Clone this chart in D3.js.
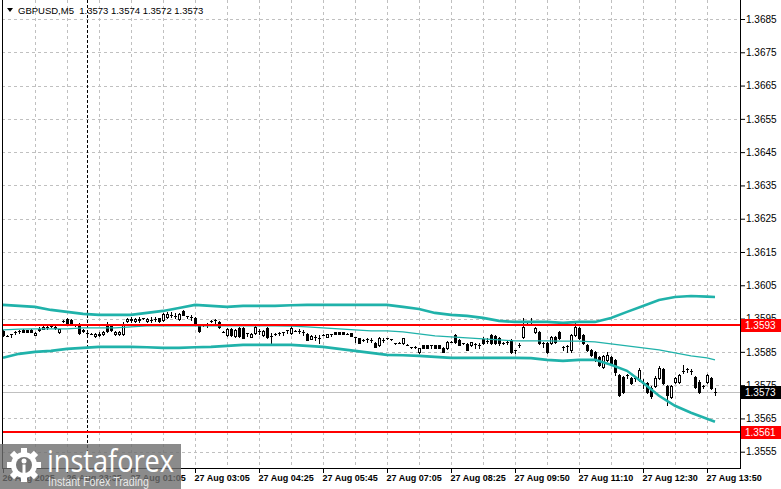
<!DOCTYPE html>
<html>
<head>
<meta charset="utf-8">
<script src="https://cdn.jsdelivr.net/npm/d3@7"></script>
<style>
html, body { margin: 0; padding: 0; background: #fff; }
svg { display: block; }
</style>
</head>
<body>
<svg id="chart" width="781" height="489"></svg>
<script>
// GBPUSD M5, 179 bars
const symbolTitle = "GBPUSD,M5";
const lastQuote = ["1.3573", "1.3574", "1.3572", "1.3573"];

const opens = [
  1.35913,1.35898,1.35904,1.35910,1.35913,1.35916,1.35916,1.35916,1.35901,1.35916,
  1.35919,1.35925,1.35928,1.35925,1.35910,1.35943,1.35949,1.35946,1.35931,1.35934,
  1.35913,1.35907,1.35904,1.35898,1.35901,1.35904,1.35934,1.35931,1.35904,1.35904,
  1.35904,1.35943,1.35946,1.35943,1.35946,1.35952,1.35943,1.35946,1.35949,1.35952,
  1.35946,1.35955,1.35961,1.35958,1.35949,1.35973,1.35958,1.35955,1.35952,1.35931,
  1.35931,1.35934,1.35943,1.35946,1.35940,1.35910,1.35901,1.35919,1.35898,1.35922,
  1.35922,1.35907,1.35895,1.35907,1.35913,1.35901,1.35922,1.35898,1.35904,1.35907,
  1.35910,1.35916,1.35907,1.35913,1.35913,1.35910,1.35904,1.35889,1.35895,1.35892,
  1.35901,1.35895,1.35904,1.35910,1.35910,1.35910,1.35904,1.35907,1.35895,1.35892,
  1.35886,1.35889,1.35886,1.35877,1.35871,1.35886,1.35892,1.35889,1.35877,1.35877,
  1.35877,1.35871,1.35865,1.35865,1.35850,1.35871,1.35871,1.35871,1.35871,1.35871,
  1.35862,1.35862,1.35880,1.35901,1.35886,1.35877,1.35874,1.35871,1.35874,1.35871,
  1.35889,1.35883,1.35901,1.35898,1.35892,1.35877,1.35880,1.35886,1.35856,1.35871,
  1.35895,1.35934,1.35940,1.35910,1.35910,1.35877,1.35877,1.35877,1.35895,1.35910,
  1.35865,1.35868,1.35856,1.35901,1.35922,1.35901,1.35871,1.35856,1.35850,1.35835,
  1.35805,1.35826,1.35835,1.35826,1.35781,1.35775,1.35781,1.35772,1.35772,1.35766,
  1.35757,1.35757,1.35742,1.35748,1.35772,1.35799,1.35748,1.35715,1.35760,1.35760,
  1.35793,1.35799,1.35793,1.35775,1.35760,1.35748,1.35760,1.35772,1.35730
];
const highs = [
  1.35916,1.35901,1.35904,1.35913,1.35916,1.35919,1.35916,1.35919,1.35910,1.35925,
  1.35928,1.35931,1.35928,1.35931,1.35919,1.35946,1.35952,1.35949,1.35934,1.35937,
  1.35919,1.35907,1.35907,1.35907,1.35910,1.35913,1.35940,1.35934,1.35913,1.35913,
  1.35940,1.35952,1.35955,1.35952,1.35955,1.35952,1.35952,1.35955,1.35955,1.35952,
  1.35967,1.35970,1.35970,1.35967,1.35967,1.35976,1.35958,1.35961,1.35955,1.35934,
  1.35934,1.35937,1.35946,1.35949,1.35943,1.35913,1.35922,1.35922,1.35919,1.35925,
  1.35925,1.35907,1.35907,1.35931,1.35919,1.35916,1.35925,1.35907,1.35907,1.35910,
  1.35910,1.35916,1.35934,1.35916,1.35919,1.35916,1.35907,1.35901,1.35901,1.35901,
  1.35904,1.35904,1.35904,1.35910,1.35910,1.35910,1.35907,1.35907,1.35895,1.35892,
  1.35889,1.35892,1.35892,1.35880,1.35895,1.35892,1.35892,1.35889,1.35877,1.35880,
  1.35892,1.35874,1.35865,1.35868,1.35862,1.35871,1.35871,1.35871,1.35871,1.35871,
  1.35865,1.35883,1.35883,1.35904,1.35889,1.35877,1.35877,1.35880,1.35877,1.35877,
  1.35895,1.35892,1.35904,1.35901,1.35895,1.35880,1.35886,1.35889,1.35856,1.35877,
  1.35952,1.35937,1.35952,1.35925,1.35913,1.35880,1.35880,1.35898,1.35898,1.35913,
  1.35868,1.35871,1.35904,1.35937,1.35925,1.35904,1.35874,1.35859,1.35853,1.35838,
  1.35841,1.35850,1.35838,1.35829,1.35784,1.35778,1.35784,1.35775,1.35778,1.35802,
  1.35769,1.35760,1.35748,1.35778,1.35808,1.35802,1.35751,1.35751,1.35775,1.35784,
  1.35811,1.35802,1.35799,1.35778,1.35766,1.35751,1.35784,1.35775,1.35740
];
const lows = [
  1.35898,1.35898,1.35895,1.35904,1.35907,1.35910,1.35910,1.35910,1.35901,1.35913,
  1.35919,1.35919,1.35925,1.35919,1.35907,1.35940,1.35937,1.35931,1.35928,1.35904,
  1.35910,1.35898,1.35904,1.35895,1.35898,1.35901,1.35910,1.35913,1.35901,1.35901,
  1.35901,1.35940,1.35940,1.35940,1.35940,1.35949,1.35940,1.35940,1.35943,1.35940,
  1.35943,1.35952,1.35955,1.35952,1.35946,1.35961,1.35952,1.35946,1.35934,1.35910,
  1.35928,1.35925,1.35940,1.35937,1.35922,1.35910,1.35898,1.35898,1.35895,1.35895,
  1.35892,1.35898,1.35895,1.35904,1.35904,1.35898,1.35892,1.35877,1.35901,1.35901,
  1.35901,1.35907,1.35904,1.35913,1.35907,1.35901,1.35886,1.35889,1.35886,1.35877,
  1.35901,1.35895,1.35898,1.35904,1.35904,1.35904,1.35904,1.35898,1.35880,1.35877,
  1.35883,1.35880,1.35880,1.35865,1.35868,1.35880,1.35889,1.35886,1.35874,1.35877,
  1.35874,1.35871,1.35862,1.35862,1.35847,1.35862,1.35862,1.35862,1.35862,1.35862,
  1.35850,1.35859,1.35880,1.35877,1.35871,1.35874,1.35856,1.35868,1.35862,1.35862,
  1.35874,1.35877,1.35874,1.35874,1.35871,1.35874,1.35874,1.35847,1.35847,1.35865,
  1.35892,1.35931,1.35934,1.35907,1.35874,1.35865,1.35847,1.35874,1.35877,1.35889,
  1.35856,1.35850,1.35850,1.35898,1.35889,1.35874,1.35853,1.35838,1.35823,1.35808,
  1.35802,1.35823,1.35814,1.35781,1.35718,1.35727,1.35772,1.35754,1.35763,1.35763,
  1.35742,1.35727,1.35712,1.35745,1.35769,1.35754,1.35691,1.35712,1.35757,1.35757,
  1.35787,1.35790,1.35784,1.35742,1.35727,1.35742,1.35757,1.35739,1.35720
];
const closes = [
  1.35901,1.35898,1.35904,1.35910,1.35913,1.35910,1.35910,1.35910,1.35907,1.35919,
  1.35925,1.35925,1.35928,1.35922,1.35919,1.35943,1.35937,1.35934,1.35931,1.35907,
  1.35916,1.35907,1.35904,1.35904,1.35904,1.35910,1.35913,1.35916,1.35910,1.35910,
  1.35934,1.35949,1.35949,1.35949,1.35949,1.35952,1.35949,1.35946,1.35949,1.35943,
  1.35964,1.35964,1.35961,1.35958,1.35964,1.35961,1.35958,1.35955,1.35937,1.35913,
  1.35931,1.35934,1.35943,1.35946,1.35925,1.35910,1.35919,1.35901,1.35916,1.35898,
  1.35892,1.35907,1.35904,1.35925,1.35913,1.35913,1.35895,1.35898,1.35904,1.35907,
  1.35910,1.35916,1.35922,1.35913,1.35913,1.35910,1.35886,1.35898,1.35895,1.35892,
  1.35901,1.35904,1.35904,1.35904,1.35904,1.35904,1.35904,1.35898,1.35895,1.35877,
  1.35886,1.35889,1.35886,1.35865,1.35892,1.35886,1.35892,1.35889,1.35877,1.35877,
  1.35892,1.35871,1.35865,1.35865,1.35862,1.35862,1.35862,1.35871,1.35862,1.35862,
  1.35850,1.35880,1.35880,1.35880,1.35871,1.35877,1.35856,1.35880,1.35874,1.35871,
  1.35877,1.35883,1.35877,1.35877,1.35877,1.35877,1.35880,1.35850,1.35856,1.35871,
  1.35925,1.35934,1.35940,1.35922,1.35877,1.35877,1.35850,1.35895,1.35880,1.35892,
  1.35865,1.35868,1.35901,1.35925,1.35892,1.35877,1.35856,1.35841,1.35826,1.35811,
  1.35838,1.35841,1.35817,1.35790,1.35721,1.35730,1.35781,1.35757,1.35772,1.35796,
  1.35757,1.35730,1.35718,1.35772,1.35802,1.35757,1.35721,1.35748,1.35772,1.35781,
  1.35793,1.35799,1.35793,1.35745,1.35730,1.35748,1.35781,1.35742,1.35730
];

// Bollinger-style envelope, read every 4th bar plus the last one
const bandBars = d3.range(0, 177, 4).concat([178]);
const upperBand = [
  1.35991,1.35988,1.35985,1.35976,1.35970,1.35964,1.35961,1.35961,1.35961,1.35967,
  1.35973,1.35982,1.35991,1.35988,1.35985,1.35988,1.35988,1.35988,1.35990,1.35991,
  1.35991,1.35991,1.35991,1.35991,1.35991,1.35985,1.35979,1.35967,1.35961,1.35958,
  1.35952,1.35943,1.35940,1.35940,1.35940,1.35937,1.35940,1.35940,1.35952,1.35970,
  1.35988,1.36006,1.36015,1.36018,1.36016,1.36015
];
const middleBand = [
  1.35916,1.35918,1.35919,1.35919,1.35919,1.35922,1.35922,1.35922,1.35925,1.35928,
  1.35928,1.35928,1.35928,1.35928,1.35928,1.35928,1.35928,1.35928,1.35927,1.35925,
  1.35922,1.35919,1.35916,1.35913,1.35913,1.35910,1.35904,1.35898,1.35895,1.35892,
  1.35889,1.35886,1.35883,1.35883,1.35883,1.35882,1.35882,1.35880,1.35874,1.35868,
  1.35862,1.35856,1.35847,1.35838,1.35832,1.35826
];
const lowerBand = [
  1.35832,1.35844,1.35850,1.35853,1.35859,1.35862,1.35865,1.35865,1.35865,1.35864,
  1.35862,1.35862,1.35864,1.35865,1.35868,1.35871,1.35871,1.35871,1.35871,1.35868,
  1.35865,1.35859,1.35853,1.35847,1.35841,1.35840,1.35838,1.35835,1.35832,1.35832,
  1.35832,1.35832,1.35832,1.35831,1.35826,1.35823,1.35826,1.35826,1.35811,1.35793,
  1.35757,1.35718,1.35688,1.35667,1.35649,1.35640
];

const priceTicks = [1.3555, 1.3565, 1.3575, 1.3585, 1.3595, 1.3605, 1.3615,
                    1.3625, 1.3635, 1.3645, 1.3655, 1.3665, 1.3675, 1.3685];
const labelBars = [0, 16, 32, 48, 64, 80, 96, 112, 128, 144, 160, 176];
const timeLabels = ["26 Aug 2025", "26 Aug 23:35", "27 Aug 01:05", "27 Aug 03:05",
                    "27 Aug 04:25", "27 Aug 05:45", "27 Aug 07:05", "27 Aug 08:25",
                    "27 Aug 09:50", "27 Aug 11:10", "27 Aug 12:30", "27 Aug 13:50"];
const daySeparatorBar = 21;
const levelLines = [1.3593, 1.3561];
const bidPrice = 1.3573;

const svg = d3.select("#chart");
const area = { left: 2, right: 740, top: 0, bottom: 468 };

const x = d3.scaleLinear().domain([0, 178]).range([3, 715]);
const y = d3.scaleLinear().domain([1.3555, 1.3685]).range([451.7, 19]);
const py = v => Math.round(y(v));

svg.append("defs").append("clipPath").attr("id", "plotClip")
  .append("rect")
  .attr("x", area.left).attr("y", area.top)
  .attr("width", area.right - area.left).attr("height", area.bottom - area.top);

const plot = svg.append("g").attr("clip-path", "url(#plotClip)");

// grid
plot.append("g").selectAll("line")
  .data(priceTicks).join("line")
  .attr("x1", area.left).attr("x2", area.right)
  .attr("y1", d => py(d) + 0.5).attr("y2", d => py(d) + 0.5)
  .attr("stroke", "#c0c0c0").attr("stroke-dasharray", "3,3")
  .attr("shape-rendering", "crispEdges");

plot.append("g").selectAll("line")
  .data(d3.range(8, 179, 8)).join("line")
  .attr("x1", d => Math.round(x(d)) + 0.5).attr("x2", d => Math.round(x(d)) + 0.5)
  .attr("y1", area.top).attr("y2", area.bottom)
  .attr("stroke", "#c0c0c0").attr("stroke-dasharray", "3,3")
  .attr("shape-rendering", "crispEdges");

// day separator
plot.append("line")
  .attr("x1", Math.round(x(daySeparatorBar)) + 0.5).attr("x2", Math.round(x(daySeparatorBar)) + 0.5)
  .attr("y1", area.top).attr("y2", area.bottom)
  .attr("stroke", "#000").attr("stroke-dasharray", "3,2")
  .attr("shape-rendering", "crispEdges");

// bid line
plot.append("line")
  .attr("x1", area.left).attr("x2", area.right)
  .attr("y1", py(bidPrice) + 0.5).attr("y2", py(bidPrice) + 0.5)
  .attr("stroke", "#c0c0c0").attr("shape-rendering", "crispEdges");

// candles
const candles = opens.map((o, i) => ({ i, o, h: highs[i], l: lows[i], c: closes[i] }));
const cg = plot.append("g").attr("shape-rendering", "crispEdges");
candles.forEach(d => {
  const cx = Math.round(x(d.i));
  const yh = py(d.h), yl = py(d.l);
  const yo = py(d.o), yc = py(d.c);
  const top = Math.min(yo, yc), bot = Math.max(yo, yc);
  cg.append("rect").attr("x", cx).attr("y", yh)
    .attr("width", 1).attr("height", yl - yh + 1).attr("fill", "#000");
  cg.append("rect").attr("x", cx - 1).attr("y", top)
    .attr("width", 3).attr("height", bot - top + 1).attr("fill", "#000");
  if (d.c > d.o && bot - top > 1) {
    cg.append("rect").attr("x", cx).attr("y", top + 1)
      .attr("width", 1).attr("height", bot - top - 1).attr("fill", "#fff");
  }
});

// envelope
const bandLine = d3.line().x((d, i) => x(bandBars[i])).y(d => y(d));
[[upperBand, 2.6], [middleBand, 1.2], [lowerBand, 2.6]].forEach(([band, w]) => {
  plot.append("path")
    .attr("d", bandLine(band))
    .attr("fill", "none")
    .attr("stroke", "#20b2aa")
    .attr("stroke-width", w);
});

// horizontal levels
plot.append("g").selectAll("line")
  .data(levelLines).join("line")
  .attr("x1", area.left).attr("x2", area.right)
  .attr("y1", d => py(d)).attr("y2", d => py(d))
  .attr("stroke", "#ff0000").attr("stroke-width", 2)
  .attr("shape-rendering", "crispEdges");

// frame
svg.append("g").attr("stroke", "#000").attr("shape-rendering", "crispEdges")
  .call(g => {
    g.append("line").attr("x1", area.left + 0.5).attr("x2", area.left + 0.5)
      .attr("y1", area.top).attr("y2", area.bottom + 1);
    g.append("line").attr("x1", area.right + 0.5).attr("x2", area.right + 0.5)
      .attr("y1", area.top).attr("y2", area.bottom + 1);
    g.append("line").attr("x1", area.left).attr("x2", area.right + 1)
      .attr("y1", area.bottom + 0.5).attr("y2", area.bottom + 0.5);
  });

// price axis
const yAxis = svg.append("g")
  .attr("transform", `translate(${area.right + 1},0)`)
  .call(d3.axisRight(y).tickValues(priceTicks).tickSize(4).tickPadding(1)
    .tickFormat(d3.format(".4f")));
yAxis.select(".domain").remove();
yAxis.selectAll("text")
  .attr("font-family", "'Liberation Sans', Arial, sans-serif")
  .attr("font-size", 10).attr("fill", "#000");

// time axis
const xAxis = svg.append("g")
  .attr("transform", `translate(0,${area.bottom + 1})`)
  .call(d3.axisBottom(x).tickValues(labelBars).tickSize(4)
    .tickFormat((d, i) => timeLabels[i]));
xAxis.select(".domain").remove();
xAxis.selectAll("text")
  .attr("text-anchor", "start")
  .attr("x", -1).attr("y", 12).attr("dy", 0)
  .attr("font-family", "'Liberation Sans', Arial, sans-serif")
  .attr("font-size", 9).attr("font-weight", "bold").attr("fill", "#000");

// price tags on the scale
const tags = [
  { v: levelLines[0], color: "#ff0000" },
  { v: bidPrice, color: "#000000" },
  { v: levelLines[1], color: "#ff0000" }
];
const tg = svg.append("g");
tags.forEach(t => {
  tg.append("rect").attr("x", area.right + 1).attr("y", py(t.v) - 6)
    .attr("width", 781 - area.right - 1).attr("height", 13).attr("fill", t.color);
  tg.append("text").attr("x", area.right + 5).attr("y", py(t.v) + 4)
    .attr("font-family", "'Liberation Sans', Arial, sans-serif")
    .attr("font-size", 10).attr("fill", "#fff")
    .text(d3.format(".4f")(t.v));
});

// header
svg.append("path").attr("d", "M7,8 L13,8 L10,12 Z").attr("fill", "#000");
svg.append("text").attr("x", 18).attr("y", 14)
  .attr("font-family", "'Liberation Sans', Arial, sans-serif")
  .attr("font-size", 9.5).attr("fill", "#000")
  .style("white-space", "pre")
  .text(symbolTitle + "  " + lastQuote.join(" "));

// watermark logo
const logo = svg.append("g");
logo.append("rect").attr("x", 0).attr("y", 444).attr("width", 181).attr("height", 45)
  .attr("fill", "#6e6e6e").attr("opacity", 0.8);
const gear = logo.append("g").attr("transform", "translate(24,465)");
d3.range(8).forEach(k => {
  gear.append("rect").attr("x", -3).attr("y", -17).attr("width", 6).attr("height", 6)
    .attr("fill", "#fff").attr("transform", `rotate(${k * 45})`);
});
gear.append("circle").attr("r", 13).attr("fill", "#fff");
gear.append("circle").attr("r", 8).attr("fill", "#777");
gear.append("circle").attr("cx", 0).attr("cy", -4).attr("r", 2.5).attr("fill", "#fff");
gear.append("rect").attr("x", -1.5).attr("y", -0.5).attr("width", 3).attr("height", 13).attr("fill", "#fff");
logo.append("text").attr("x", 47).attr("y", 472)
  .attr("font-family", "'Open Sans', 'Liberation Sans', sans-serif")
  .attr("font-size", 31).attr("fill", "#fff")
  .attr("textLength", 127).attr("lengthAdjust", "spacingAndGlyphs")
  .text("instaforex");
logo.append("text").attr("x", 48).attr("y", 486)
  .attr("font-family", "'Liberation Sans', Arial, sans-serif")
  .attr("font-size", 12).attr("fill", "#e8e8e8")
  .attr("textLength", 101).attr("lengthAdjust", "spacingAndGlyphs")
  .text("Instant Forex Trading");
</script>
</body>
</html>
